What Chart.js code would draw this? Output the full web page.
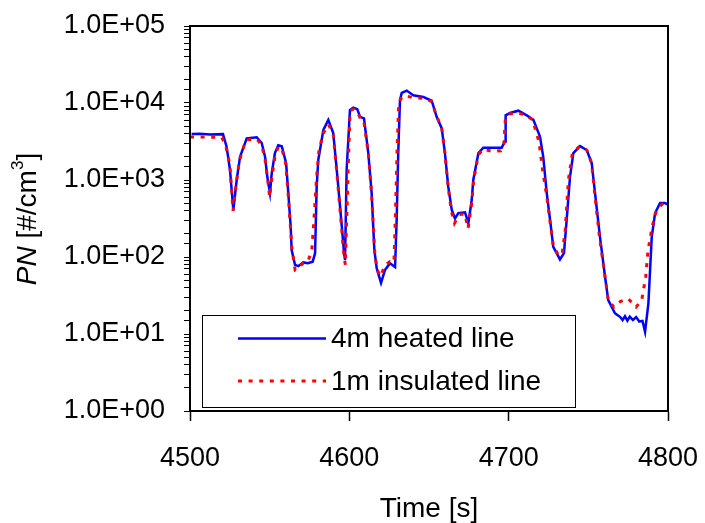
<!DOCTYPE html>
<html>
<head>
<meta charset="utf-8">
<script src="https://cdn.jsdelivr.net/npm/chart.js@4/dist/chart.umd.min.js"></script>
<style>
  html, body { margin:0; padding:0; background:#fff; }
  canvas { display:block; }
</style>
</head>
<body>
<canvas id="pnChart" width="705" height="523"></canvas>
<script>
// 4m heated line (blue, solid)
const timeHeated = [4501,4506,4512.6,4520.7,4523,4525.1,4527.2,4529.3,4531.4,4535.6,4541.9,4545,4547.1,4548.5,4550.2,4551.3,4553.3,4555.4,4557.6,4560.3,4561.7,4563.2,4563.8,4565.9,4568,4571.1,4574,4577,4578.5,4579.5,4580.5,4583.7,4586.8,4589.9,4592.1,4594.2,4596.7,4597.3,4598.3,4600.4,4602.5,4605,4606.7,4609.2,4611.9,4614,4615.7,4617.2,4619.9,4622.4,4625.5,4628.7,4629.7,4630.7,4631.8,4632.9,4636,4640.1,4646.4,4651.7,4654.8,4658,4660,4662.1,4664.3,4666.3,4668.4,4672.6,4674.7,4676.8,4677.8,4681,4684.1,4695.6,4697.7,4698.1,4700.8,4706.1,4711.3,4715.5,4719.7,4721.7,4723.9,4726,4728,4732.2,4734.7,4736.4,4738.5,4740.6,4744.8,4749,4752.1,4754.2,4757.3,4760.5,4762.5,4766.7,4768,4770,4771.5,4773,4774.5,4776,4778,4780,4782,4784,4785.6,4787.7,4789.8,4791.9,4795,4798.1,4800];
const pnHeated = [3950,3980,3890,3940,2690,1350,407,1000,2000,3470,3590,3020,2000,1100,676,1230,2240,2820,2750,1660,676,245,123,79,76,85,83,87,112,813,1820,4470,6030,4070,1350,447,112,91,1350,8130,8710,8320,6610,6310,2240,676,123,71,46,68,83,74,302,2240,11000,13500,14500,12600,12000,10700,6610,4680,2240,813,407,316,372,380,275,550,1000,2240,2630,2630,3160,6920,7410,7940,6920,6030,3630,2000,676,302,135,93,112,302,1100,2240,2750,2450,1660,676,182,55,27.5,18.6,17.8,16.6,15.2,17,14.9,16.8,15.2,16.6,14.5,14.8,10.7,25,182,372,501,501,479];

// 1m insulated line (red, dotted)
const timeInsulated = [4500,4510,4520,4522.5,4525,4527,4529,4531,4535,4542,4545,4547,4548.5,4550,4551.5,4553.5,4555.5,4557.5,4560,4561.5,4563,4564,4566,4568,4571,4574,4576.5,4578,4579.5,4581,4584,4587,4590,4592,4594,4596.5,4597.5,4598.5,4599.5,4600.5,4602.5,4605,4607,4609,4612,4614,4616,4617.5,4619.5,4622.5,4625.5,4628,4629,4630,4631,4633,4636,4640,4646,4651.5,4655,4658,4660,4662,4664,4666,4669,4672.5,4674.5,4677,4678,4681,4684,4690,4695,4697,4698,4701,4706,4711,4715,4719,4721.5,4724,4726,4728,4731,4733.5,4735.5,4737.5,4740,4744.5,4749,4752,4754,4757,4760.5,4762.5,4766,4770,4775,4780,4783.5,4786,4787.5,4790,4793,4797,4800];
const pnInsulated = [3630,3630,3550,2750,1580,398,891,1780,3310,3390,2820,1910,1120,603,1120,2140,2690,2630,1660,708,251,126,68,72,83,87,126,355,1120,2510,4170,5250,3800,1350,447,112,79,398,2000,7940,8320,7590,6310,6030,2140,631,112,68,56,79,87,85,398,2510,10000,12000,12300,11700,11500,10500,6610,4680,2240,813,398,275,355,363,234,525,1000,2140,2510,2340,2400,2950,6610,7240,7410,6920,6030,3160,1260,603,282,141,107,107,224,1000,2240,2750,2450,1660,676,182,55,27.5,22.4,26.3,28.8,22.4,27.5,55,123,245,417,501,501];

const xTicks = [4500, 4600, 4700, 4800];
const seriesNames = ['4m heated line', '1m insulated line'];
const yTitleParts = ['PN', ' [#/cm', '3', ']'];
const xTitle = 'Time [s]';

const FONT = '"Liberation Sans", Arial, sans-serif';

const toPoints = (xs, ys) => xs.map((x, i) => ({ x, y: ys[i] }));

function fmtExp(v) {
  const e = Math.round(Math.log10(v));
  if (Math.abs(Math.log10(v) - e) > 1e-9) return '';
  const s = (e < 0 ? '-' : '+') + String(Math.abs(e)).padStart(2, '0');
  return '1.0E' + s;
}

// frame around the plot area
const frame = {
  id: 'frame',
  afterDraw(chart) {
    const { ctx, chartArea: a } = chart;
    ctx.save();
    ctx.strokeStyle = '#000';
    ctx.lineWidth = 2;
    ctx.strokeRect(a.left, a.top, a.right - a.left, a.bottom - a.top);
    ctx.restore();
  }
};

// y title with italic PN and superscript 3
const yTitle = {
  id: 'yTitle',
  afterDraw(chart) {
    const ctx = chart.ctx;
    const big = 28, small = 17;
    const fonts = ['italic ' + big + 'px ' + FONT, big + 'px ' + FONT, small + 'px ' + FONT, big + 'px ' + FONT];
    const shift = [0, 0, -10, 0];
    ctx.save();
    let w = 0;
    const widths = yTitleParts.map((t, i) => { ctx.font = fonts[i]; const m = ctx.measureText(t).width; w += m; return m; });
    ctx.translate(28, 219);
    ctx.rotate(-Math.PI / 2);
    ctx.fillStyle = '#000';
    ctx.textBaseline = 'middle';
    let x = -w / 2;
    yTitleParts.forEach((t, i) => {
      ctx.font = fonts[i];
      ctx.fillText(t, x, shift[i]);
      x += widths[i];
    });
    ctx.restore();
  }
};

// boxed legend inside the plot
const boxLegend = {
  id: 'boxLegend',
  afterDraw(chart) {
    const ctx = chart.ctx;
    ctx.save();
    ctx.fillStyle = '#fff';
    ctx.fillRect(202.5, 315.5, 373, 92);
    ctx.strokeStyle = '#000';
    ctx.lineWidth = 1;
    ctx.strokeRect(202.5, 315.5, 373, 92);
    const rows = [338.5, 381];
    chart.data.datasets.forEach((ds, i) => {
      ctx.beginPath();
      ctx.strokeStyle = ds.borderColor;
      ctx.lineWidth = ds.borderWidth;
      ctx.setLineDash(ds.borderDash || []);
      ctx.moveTo(238, rows[i]);
      ctx.lineTo(326, rows[i]);
      ctx.stroke();
      ctx.setLineDash([]);
      ctx.fillStyle = '#000';
      ctx.font = '28px ' + FONT;
      ctx.textBaseline = 'middle';
      ctx.fillText(ds.label, 331, rows[i] + 1);
    });
    ctx.restore();
  }
};

new Chart(document.getElementById('pnChart').getContext('2d'), {
  type: 'line',
  data: {
    datasets: [
      { label: seriesNames[0], data: toPoints(timeHeated, pnHeated), borderColor: '#0000ff', borderWidth: 2.5,
        pointRadius: 0, tension: 0, order: 1 },
      { label: seriesNames[1], data: toPoints(timeInsulated, pnInsulated), borderColor: '#ff0000', borderWidth: 3,
        borderDash: [4, 6.6], pointRadius: 0, tension: 0, order: 0 }
    ]
  },
  options: {
    responsive: false, animation: false,
    layout: { padding: { top: 26, right: 37, left: 0, bottom: 0 } },
    plugins: { legend: { display: false }, tooltip: { enabled: false } },
    scales: {
      x: {
        type: 'linear', min: xTicks[0], max: xTicks[xTicks.length - 1],
        afterBuildTicks: s => { s.ticks = xTicks.map(v => ({ value: v })); },
        afterFit: s => { s.height = 112; s.paddingLeft = 0; s.paddingRight = 0; },
        ticks: { color: '#000', font: { family: FONT, size: 27 }, padding: 21, maxRotation: 0, callback: v => String(v) },
        grid: { drawOnChartArea: false, tickLength: 10, tickColor: '#000', tickWidth: 1.5 },
        border: { color: '#000', width: 2 },
        title: { display: true, text: xTitle, color: '#000', font: { family: FONT, size: 28 }, padding: { top: 0, bottom: -3 } }
      },
      y: {
        type: 'logarithmic', min: 1, max: 1e5,
        afterFit: s => { s.width = 190; s.paddingTop = 0; s.paddingBottom = 0; },
        ticks: { color: '#000', font: { family: FONT, size: 27 }, padding: 19, autoSkip: false, callback: v => fmtExp(v) },
        grid: { drawOnChartArea: false, tickLength: 6, tickColor: '#000', tickWidth: 1 },
        border: { color: '#000', width: 2 }
      }
    }
  },
  plugins: [frame, yTitle, boxLegend]
});
</script>
</body>
</html>
